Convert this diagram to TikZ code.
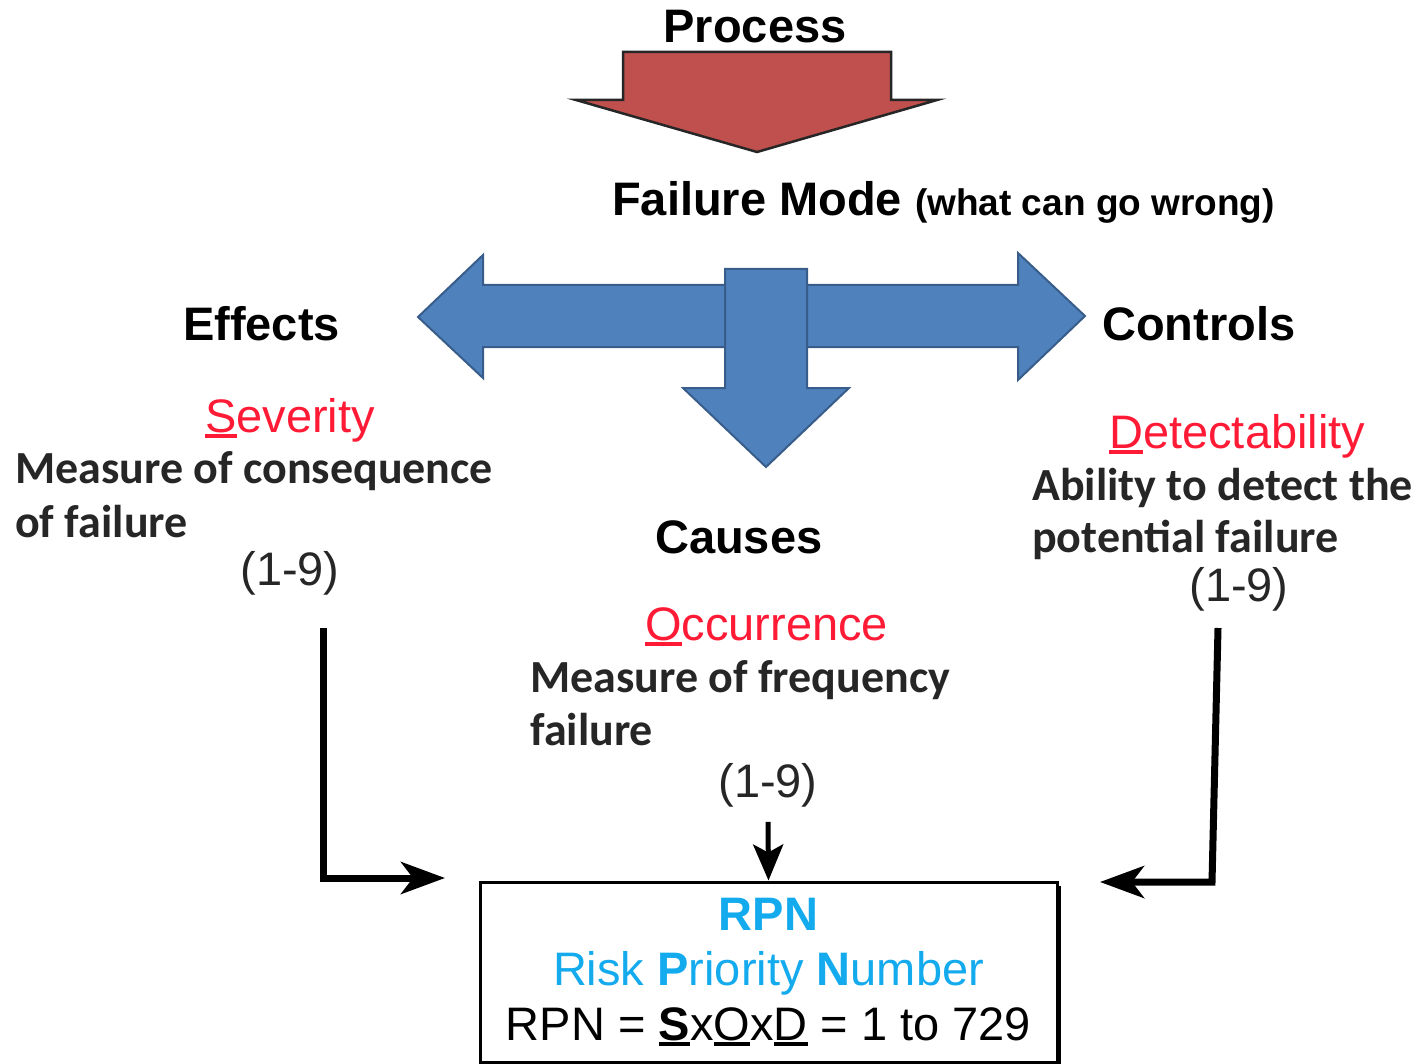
\documentclass[tikz,border=0pt]{standalone}
\usepackage{fontspec}
\setmainfont{Liberation Sans}
\newfontfamily\calibrifont{Carlito}
\usetikzlibrary{arrows.meta,shadows}

\definecolor{procred}{HTML}{C0504D}
\definecolor{flowblue}{HTML}{4F81BD}
\definecolor{flowedge}{HTML}{385D8A}
\definecolor{ratingred}{HTML}{FF1A35}
\definecolor{rpncyan}{HTML}{14AAEE}

% heavy underline for the rating initials
\newcommand\thickul[2][black]{\setbox0\hbox{#2}\rlap{\color{#1}\rule[-6pt]{\wd0}{4pt}}\box0\relax}

\begin{document}
\begin{tikzpicture}[x=1pt,y=-1pt,
  headtext/.style={font=\fontsize{47}{56}\selectfont\bfseries, text=black, inner sep=0pt, anchor=base west},
  ratetext/.style={font=\fontsize{47}{56}\selectfont, text=ratingred, inner sep=0pt, anchor=base west},
  notetext/.style={font=\calibrifont\bfseries\fontsize{46}{53}\selectfont, text=black!85, inner sep=0pt, anchor=base west},
  scoretext/.style={font=\fontsize{47}{56}\selectfont, text=black!85, inner sep=0pt, anchor=base},
  blockarrow/.style={fill=flowblue, draw=flowedge, line width=2pt, line join=miter},
  linkarrow/.style={line width=7pt, -{Stealth[length=44pt,width=32pt,inset=12pt]}},
  smallarrow/.style={line width=5pt, -{Stealth[length=36pt,width=30pt,inset=8pt]}},
  rpnbox/.style={draw=black, line width=3pt, fill=white, minimum width=577pt,
    minimum height=180pt, align=center, text=rpncyan, inner sep=0pt,
    font=\fontsize{47}{55}\selectfont,
    drop shadow={fill=black, opacity=1, shadow xshift=4pt, shadow yshift=-4pt}},
]
\useasboundingbox (0,0) rectangle (1420,1064);

% process arrow
\node[headtext, anchor=base] (process) at (755,43) {Process};
\filldraw[fill=procred, draw=black!85, line width=2.5pt, line join=miter]
  (623,52) -- (891,52) -- (891,100) -- (937,100) -- (757,152)
  -- (576,100) -- (623,100) -- cycle;

\node[headtext] (fmode) at (612,216)
  {Failure Mode {\fontsize{37}{44}\selectfont(what can go wrong)}};

% branching block arrows
\draw[blockarrow] (418,317) -- (483,255) -- (483,285) -- (1018,285) -- (1018,253)
  -- (1085,316) -- (1018,380) -- (1018,347) -- (483,347) -- (483,378) -- cycle;
\draw[blockarrow] (725,269) -- (807,269) -- (807,388) -- (849,388) -- (766,467)
  -- (683,388) -- (725,388) -- cycle;

\node[headtext] (effects) at (183,340) {Effects};
\node[headtext] (controls) at (1102,340) {Controls};
\node[headtext] (causes) at (655,553) {Causes};

% severity
\node[ratetext] (severity) at (205,432) {\thickul[ratingred]{S}everity};
\node[notetext] (sevnote1) at (15,483) {Measure of consequence};
\node[notetext] (sevnote2) at (15,537) {of failure};
\node[scoretext] (sevrange) at (290,585) {(1-9)};

% detectability
\node[ratetext] (detect) at (1109,448) {\thickul[ratingred]{D}etectability};
\node[notetext] (detnote1) at (1032,500) {Ability to detect the};
\node[notetext] (detnote2) at (1032,552) {potential failure};
\node[scoretext] (detrange) at (1239,601) {(1-9)};

% occurrence
\node[ratetext] (occur) at (645,640) {\thickul[ratingred]{O}ccurrence};
\node[notetext] (occnote1) at (530,692) {Measure of frequency};
\node[notetext] (occnote2) at (530,745) {failure};
\node[scoretext] (occrange) at (768,797) {(1-9)};

% risk priority number
\node[rpnbox] (rpn) at (768.5,972)
  {{\bfseries RPN}\\
   Risk {\bfseries P}riority {\bfseries N}umber\\
   \textcolor{black}{RPN = \thickul{\bfseries S}x\thickul{O}x\thickul{D} = 1 to 729}};

% connectors into the RPN box
\coordinate (sevout) at (323,628);
\coordinate (rpnleft) at (445,878);
\draw[linkarrow] (sevout) |- (rpnleft);

\coordinate (detout) at (1218,628);
\coordinate (detbend) at (1212,882);
\coordinate (rpnright) at (1100,882);
\draw[linkarrow] (detout) -- (detbend) -- (rpnright);

\draw[smallarrow] ([yshift=-15pt]occrange.south) -- (rpn.north);
\end{tikzpicture}
\end{document}
